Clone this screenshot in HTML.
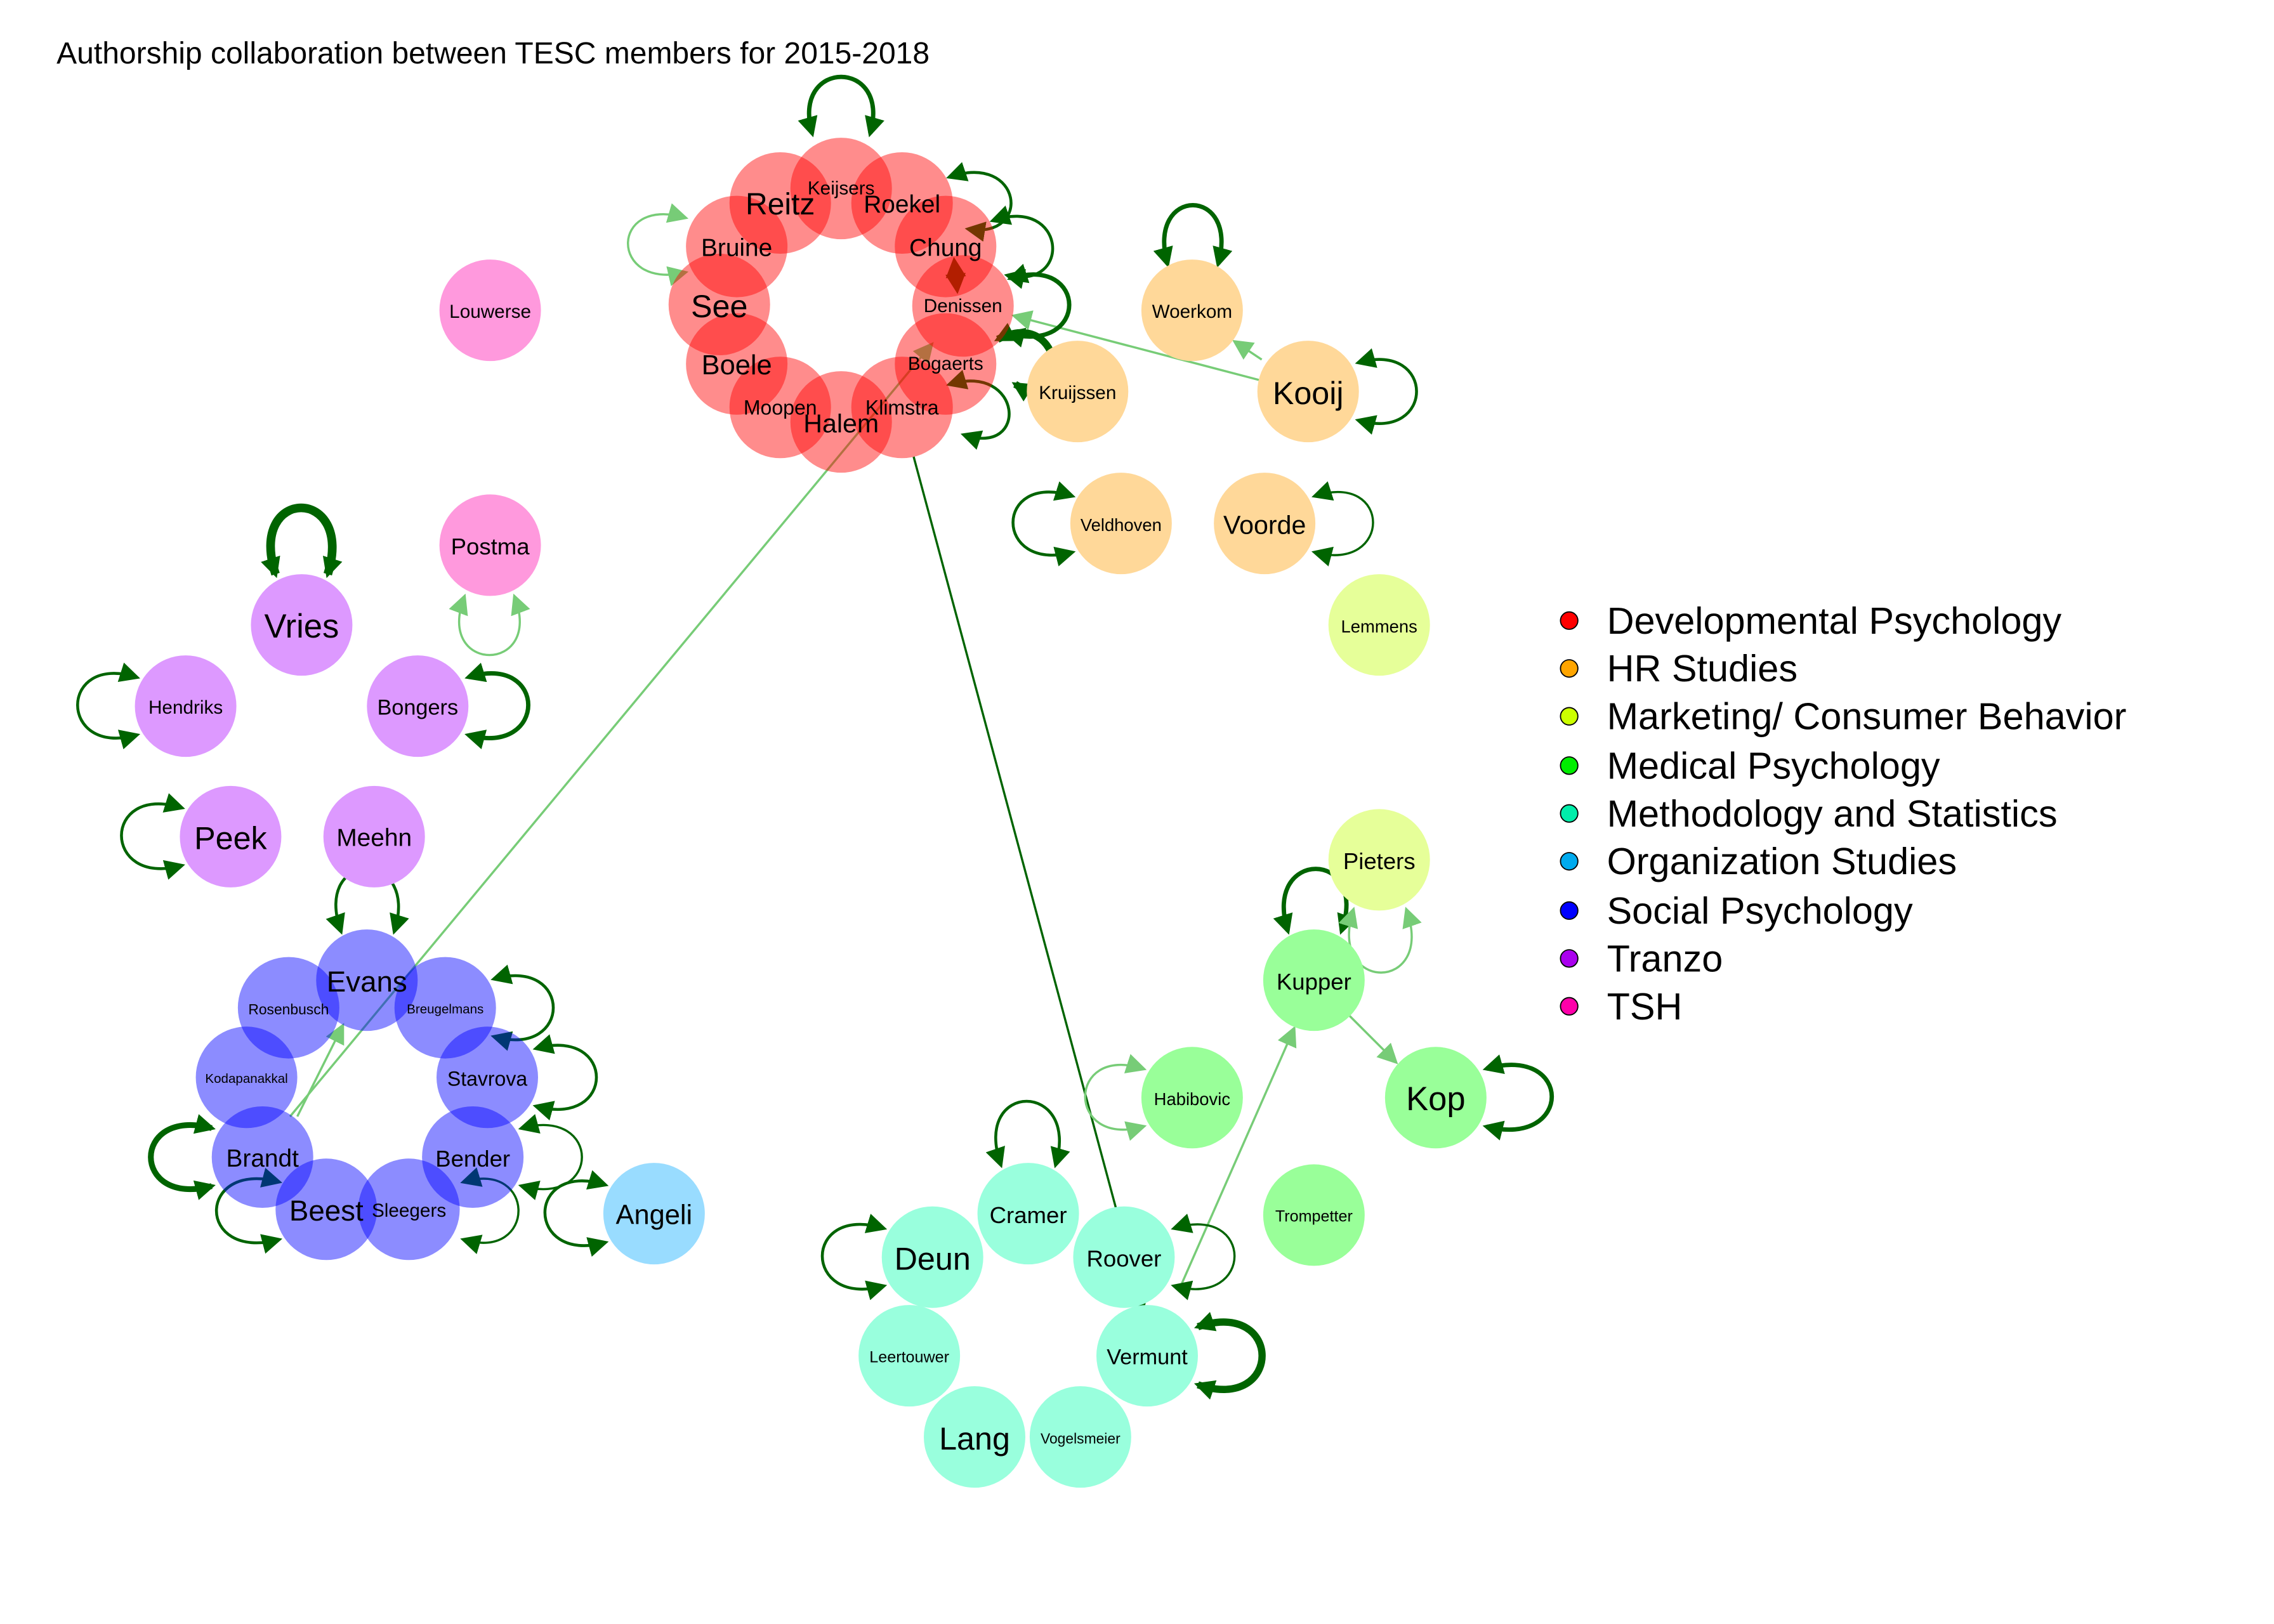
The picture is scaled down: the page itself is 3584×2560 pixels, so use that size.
<!DOCTYPE html>
<html><head><meta charset="utf-8"><style>
html,body{margin:0;padding:0;background:#fff}
svg{display:block}
text{font-family:"Liberation Sans",Arial,sans-serif;text-anchor:middle;dominant-baseline:central;fill:#000}
.lg{text-anchor:start;font-size:26px}
</style></head><body>
<svg width="3584" height="2560" viewBox="0 0 1568 1120" xmlns="http://www.w3.org/2000/svg">
<defs>
<marker id="ad" viewBox="0 0 10 10" refX="8" refY="5" markerWidth="5" markerHeight="5" orient="auto-start-reverse" markerUnits="userSpaceOnUse"><path d="M0,0L10,5L0,10z" fill="#006400"/></marker>
<marker id="al" viewBox="0 0 10 10" refX="8" refY="5" markerWidth="5" markerHeight="5" orient="auto-start-reverse" markerUnits="userSpaceOnUse"><path d="M0,0L10,5L0,10z" fill="#77cc77"/></marker>
<marker id="adb" viewBox="0 0 10 10" refX="8" refY="5" markerWidth="14" markerHeight="14" orient="auto-start-reverse" markerUnits="userSpaceOnUse"><path d="M0,0L10,5L0,10z" fill="#006400"/></marker>
<marker id="alb" viewBox="0 0 10 10" refX="8" refY="5" markerWidth="14" markerHeight="14" orient="auto-start-reverse" markerUnits="userSpaceOnUse"><path d="M0,0L10,5L0,10z" fill="#77cc77"/></marker>
</defs>
<rect width="1568" height="1120" fill="#fff"/>
<text x="39" y="37" style="text-anchor:start;font-size:21px">Authorship collaboration between TESC members for 2015-2018</text>

<!-- straight edges -->
<g fill="none">
<line x1="868" y1="262" x2="700" y2="218" stroke="#77cc77" stroke-width="1.5" marker-end="url(#alb)"/>
<line x1="870" y1="248" x2="852" y2="236" stroke="#77cc77" stroke-width="1.5" marker-end="url(#alb)"/>
<line x1="200" y1="770" x2="642" y2="238" stroke="#77cc77" stroke-width="1.5" marker-end="url(#alb)"/>
<line x1="205" y1="770" x2="236" y2="708" stroke="#77cc77" stroke-width="1.5" marker-end="url(#alb)"/>
<line x1="630" y1="315" x2="788" y2="902" stroke="#006400" stroke-width="1.5" marker-end="url(#adb)"/>
<line x1="815" y1="885" x2="892" y2="710" stroke="#77cc77" stroke-width="1.5" marker-end="url(#alb)"/>
<line x1="930" y1="700" x2="962" y2="732" stroke="#77cc77" stroke-width="1.5" marker-end="url(#alb)"/>
<line x1="658" y1="180" x2="660" y2="200" stroke="#8b0000" stroke-width="2" marker-end="url(#adb)" marker-start="url(#adb)"/>
</g>

<!-- self loops -->
<g fill="none" stroke="#006400">
<path d="M560,92 C545,40 615,40 600,92" stroke-width="3" marker-end="url(#adb)" marker-start="url(#adb)"/>
<path d="M472,150 C420,135 420,200 472,188" stroke="#77cc77" stroke-width="1.5" marker-end="url(#alb)" marker-start="url(#alb)"/>
<path d="M655,122 C705,105 712,165 668,158" stroke-width="2" marker-end="url(#adb)" marker-start="url(#adb)"/>
<path d="M685,152 C735,135 740,200 695,190" stroke-width="2" marker-end="url(#adb)" marker-start="url(#adb)"/>
<path d="M697,192 C750,175 752,245 695,230" stroke-width="3" marker-end="url(#adb)" marker-start="url(#adb)"/>
<path d="M688,234 C735,210 740,290 700,265" stroke-width="5" marker-end="url(#adb)" marker-start="url(#adb)"/>
<path d="M655,265 C705,250 710,315 665,300" stroke-width="2" marker-end="url(#adb)" marker-start="url(#adb)"/>
<path d="M805,182 C790,128 855,128 840,182" stroke-width="3" marker-end="url(#adb)" marker-start="url(#adb)"/>
<path d="M937,250 C990,235 990,305 937,290" stroke-width="2" marker-end="url(#adb)" marker-start="url(#adb)"/>
<path d="M739,342 C685,325 685,395 739,381" stroke-width="2" marker-end="url(#adb)" marker-start="url(#adb)"/>
<path d="M907,342 C960,325 960,395 907,381" stroke-width="1.5" marker-end="url(#adb)" marker-start="url(#adb)"/>
<path d="M190,396 C170,335 245,335 226,396" stroke-width="6" marker-end="url(#adb)" marker-start="url(#adb)"/>
<path d="M320,412 C300,465 375,465 355,412" stroke="#77cc77" stroke-width="1.5" marker-end="url(#alb)" marker-start="url(#alb)"/>
<path d="M94,467 C40,450 40,522 94,507" stroke-width="2" marker-end="url(#adb)" marker-start="url(#adb)"/>
<path d="M323,467 C378,450 378,522 323,507" stroke-width="3" marker-end="url(#adb)" marker-start="url(#adb)"/>
<path d="M125,557 C70,540 70,612 125,597" stroke-width="2" marker-end="url(#adb)" marker-start="url(#adb)"/>
<path d="M235,642 C215,585 290,585 272,642" stroke-width="2" marker-end="url(#adb)" marker-start="url(#adb)"/>
<path d="M341,675 C395,660 395,730 341,715" stroke-width="2" marker-end="url(#adb)" marker-start="url(#adb)"/>
<path d="M370,723 C425,708 425,778 370,763" stroke-width="2" marker-end="url(#adb)" marker-start="url(#adb)"/>
<path d="M360,778 C415,763 415,833 360,818" stroke-width="1.5" marker-end="url(#adb)" marker-start="url(#adb)"/>
<path d="M320,815 C370,800 370,870 320,855" stroke-width="1.5" marker-end="url(#adb)" marker-start="url(#adb)"/>
<path d="M146,778 C90,763 90,833 146,818" stroke-width="4" marker-end="url(#adb)" marker-start="url(#adb)"/>
<path d="M192,815 C135,800 135,870 192,855" stroke-width="2" marker-end="url(#adb)" marker-start="url(#adb)"/>
<path d="M417,817 C362,800 362,872 417,857" stroke-width="2" marker-end="url(#adb)" marker-start="url(#adb)"/>
<path d="M888,642 C870,585 945,585 925,642" stroke-width="3" marker-end="url(#adb)" marker-start="url(#adb)"/>
<path d="M933,628 C915,685 990,685 970,628" stroke="#77cc77" stroke-width="1.5" marker-end="url(#alb)" marker-start="url(#alb)"/>
<path d="M788,737 C735,720 735,792 788,777" stroke="#77cc77" stroke-width="1.5" marker-end="url(#alb)" marker-start="url(#alb)"/>
<path d="M1025,737 C1085,720 1085,792 1025,777" stroke-width="3" marker-end="url(#adb)" marker-start="url(#adb)"/>
<path d="M690,803 C670,745 745,745 728,803" stroke-width="2" marker-end="url(#adb)" marker-start="url(#adb)"/>
<path d="M609,847 C553,830 553,902 609,887" stroke-width="2" marker-end="url(#adb)" marker-start="url(#adb)"/>
<path d="M810,847 C865,830 865,902 810,887" stroke-width="1.5" marker-end="url(#adb)" marker-start="url(#adb)"/>
<path d="M826,915 C885,895 885,975 826,955" stroke-width="5" marker-end="url(#adb)" marker-start="url(#adb)"/>
</g>

<!-- nodes -->
<g fill="#ff0000" fill-opacity="0.45">
<circle cx="580" cy="130" r="35"/><circle cx="538" cy="140" r="35"/><circle cx="622" cy="140" r="35"/>
<circle cx="508" cy="170" r="35"/><circle cx="652" cy="170" r="35"/><circle cx="496" cy="210" r="35"/>
<circle cx="664" cy="211" r="35"/><circle cx="508" cy="251" r="35"/><circle cx="652" cy="251" r="35"/>
<circle cx="538" cy="281" r="35"/><circle cx="580" cy="291" r="35"/><circle cx="622" cy="281" r="35"/>
</g>
<g fill="#ff99dd"><circle cx="338" cy="214" r="35"/><circle cx="338" cy="376" r="35"/></g>
<g fill="#ffd899"><circle cx="822" cy="214" r="35"/><circle cx="743" cy="270" r="35"/><circle cx="902" cy="270" r="35"/><circle cx="773" cy="361" r="35"/><circle cx="872" cy="361" r="35"/></g>
<g fill="#e6ff99"><circle cx="951" cy="431" r="35"/><circle cx="951" cy="593" r="35"/></g>
<g fill="#dd99ff"><circle cx="208" cy="431" r="35"/><circle cx="128" cy="487" r="35"/><circle cx="288" cy="487" r="35"/><circle cx="159" cy="577" r="35"/><circle cx="258" cy="577" r="35"/></g>
<g fill="#0000ff" fill-opacity="0.45">
<circle cx="253" cy="676" r="35"/><circle cx="199" cy="695" r="35"/><circle cx="307" cy="695" r="35"/>
<circle cx="170" cy="743" r="35"/><circle cx="336" cy="743" r="35"/><circle cx="181" cy="798" r="35"/>
<circle cx="326" cy="798" r="35"/><circle cx="225" cy="834" r="35"/><circle cx="282" cy="834" r="35"/>
</g>
<circle cx="451" cy="837" r="35" fill="#99dcff"/>
<g fill="#99ff99"><circle cx="906" cy="676" r="35"/><circle cx="822" cy="757" r="35"/><circle cx="990" cy="757" r="35"/><circle cx="906" cy="838" r="35"/></g>
<g fill="#99ffdd"><circle cx="709" cy="837" r="35"/><circle cx="643" cy="867" r="35"/><circle cx="775" cy="867" r="35"/><circle cx="627" cy="935" r="35"/><circle cx="791" cy="935" r="35"/><circle cx="672" cy="991" r="35"/><circle cx="745" cy="991" r="35"/></g>

<!-- labels -->
<g>
<text x="580" y="130" font-size="13">Keijsers</text><text x="538" y="141" font-size="21">Reitz</text><text x="622" y="141" font-size="17">Roekel</text>
<text x="508" y="171" font-size="17">Bruine</text><text x="652" y="171" font-size="17">Chung</text><text x="496" y="211" font-size="22">See</text>
<text x="664" y="211" font-size="13">Denissen</text><text x="508" y="252" font-size="19">Boele</text><text x="652" y="251" font-size="13">Bogaerts</text>
<text x="538" y="281" font-size="14">Moopen</text><text x="580" y="292" font-size="18">Halem</text><text x="622" y="281" font-size="14">Klimstra</text>
<text x="338" y="215" font-size="13">Louwerse</text><text x="338" y="377" font-size="16">Postma</text>
<text x="822" y="215" font-size="13">Woerkom</text><text x="743" y="271" font-size="13">Kruijssen</text><text x="902" y="271" font-size="22">Kooij</text>
<text x="773" y="362" font-size="12">Veldhoven</text><text x="872" y="362" font-size="18">Voorde</text>
<text x="951" y="432" font-size="12">Lemmens</text><text x="951" y="594" font-size="16">Pieters</text>
<text x="208" y="432" font-size="23">Vries</text><text x="128" y="488" font-size="13">Hendriks</text><text x="288" y="488" font-size="15">Bongers</text>
<text x="159" y="578" font-size="22">Peek</text><text x="258" y="578" font-size="17">Meehn</text>
<text x="253" y="677" font-size="20">Evans</text><text x="199" y="696" font-size="10">Rosenbusch</text><text x="307" y="696" font-size="9">Breugelmans</text>
<text x="170" y="744" font-size="9">Kodapanakkal</text><text x="336" y="744" font-size="14">Stavrova</text><text x="181" y="799" font-size="17">Brandt</text>
<text x="326" y="799" font-size="16">Bender</text><text x="225" y="835" font-size="20">Beest</text><text x="282" y="835" font-size="13">Sleegers</text>
<text x="451" y="838" font-size="19">Angeli</text>
<text x="906" y="677" font-size="16">Kupper</text><text x="822" y="758" font-size="12">Habibovic</text><text x="990" y="758" font-size="23">Kop</text><text x="906" y="839" font-size="11">Trompetter</text>
<text x="709" y="838" font-size="16">Cramer</text><text x="643" y="868" font-size="22">Deun</text><text x="775" y="868" font-size="16">Roover</text>
<text x="627" y="936" font-size="11">Leertouwer</text><text x="791" y="936" font-size="15">Vermunt</text><text x="672" y="992" font-size="22">Lang</text><text x="745" y="992" font-size="10">Vogelsmeier</text>
</g>

<!-- legend -->
<g stroke="#000" stroke-width="0.8">
<circle cx="1082" cy="428" r="6" fill="#ff0000"/><circle cx="1082" cy="461" r="6" fill="#ffa500"/><circle cx="1082" cy="494" r="6" fill="#ccff00"/>
<circle cx="1082" cy="528" r="6" fill="#00ee00"/><circle cx="1082" cy="561" r="6" fill="#00eeaa"/><circle cx="1082" cy="594" r="6" fill="#00aaee"/>
<circle cx="1082" cy="628" r="6" fill="#0000ff"/><circle cx="1082" cy="661" r="6" fill="#aa00ee"/><circle cx="1082" cy="694" r="6" fill="#ff00aa"/>
</g>
<text class="lg" x="1108" y="428">Developmental Psychology</text>
<text class="lg" x="1108" y="461">HR Studies</text>
<text class="lg" x="1108" y="494">Marketing/ Consumer Behavior</text>
<text class="lg" x="1108" y="528">Medical Psychology</text>
<text class="lg" x="1108" y="561">Methodology and Statistics</text>
<text class="lg" x="1108" y="594">Organization Studies</text>
<text class="lg" x="1108" y="628">Social Psychology</text>
<text class="lg" x="1108" y="661">Tranzo</text>
<text class="lg" x="1108" y="694">TSH</text>
</svg>
</body></html>
